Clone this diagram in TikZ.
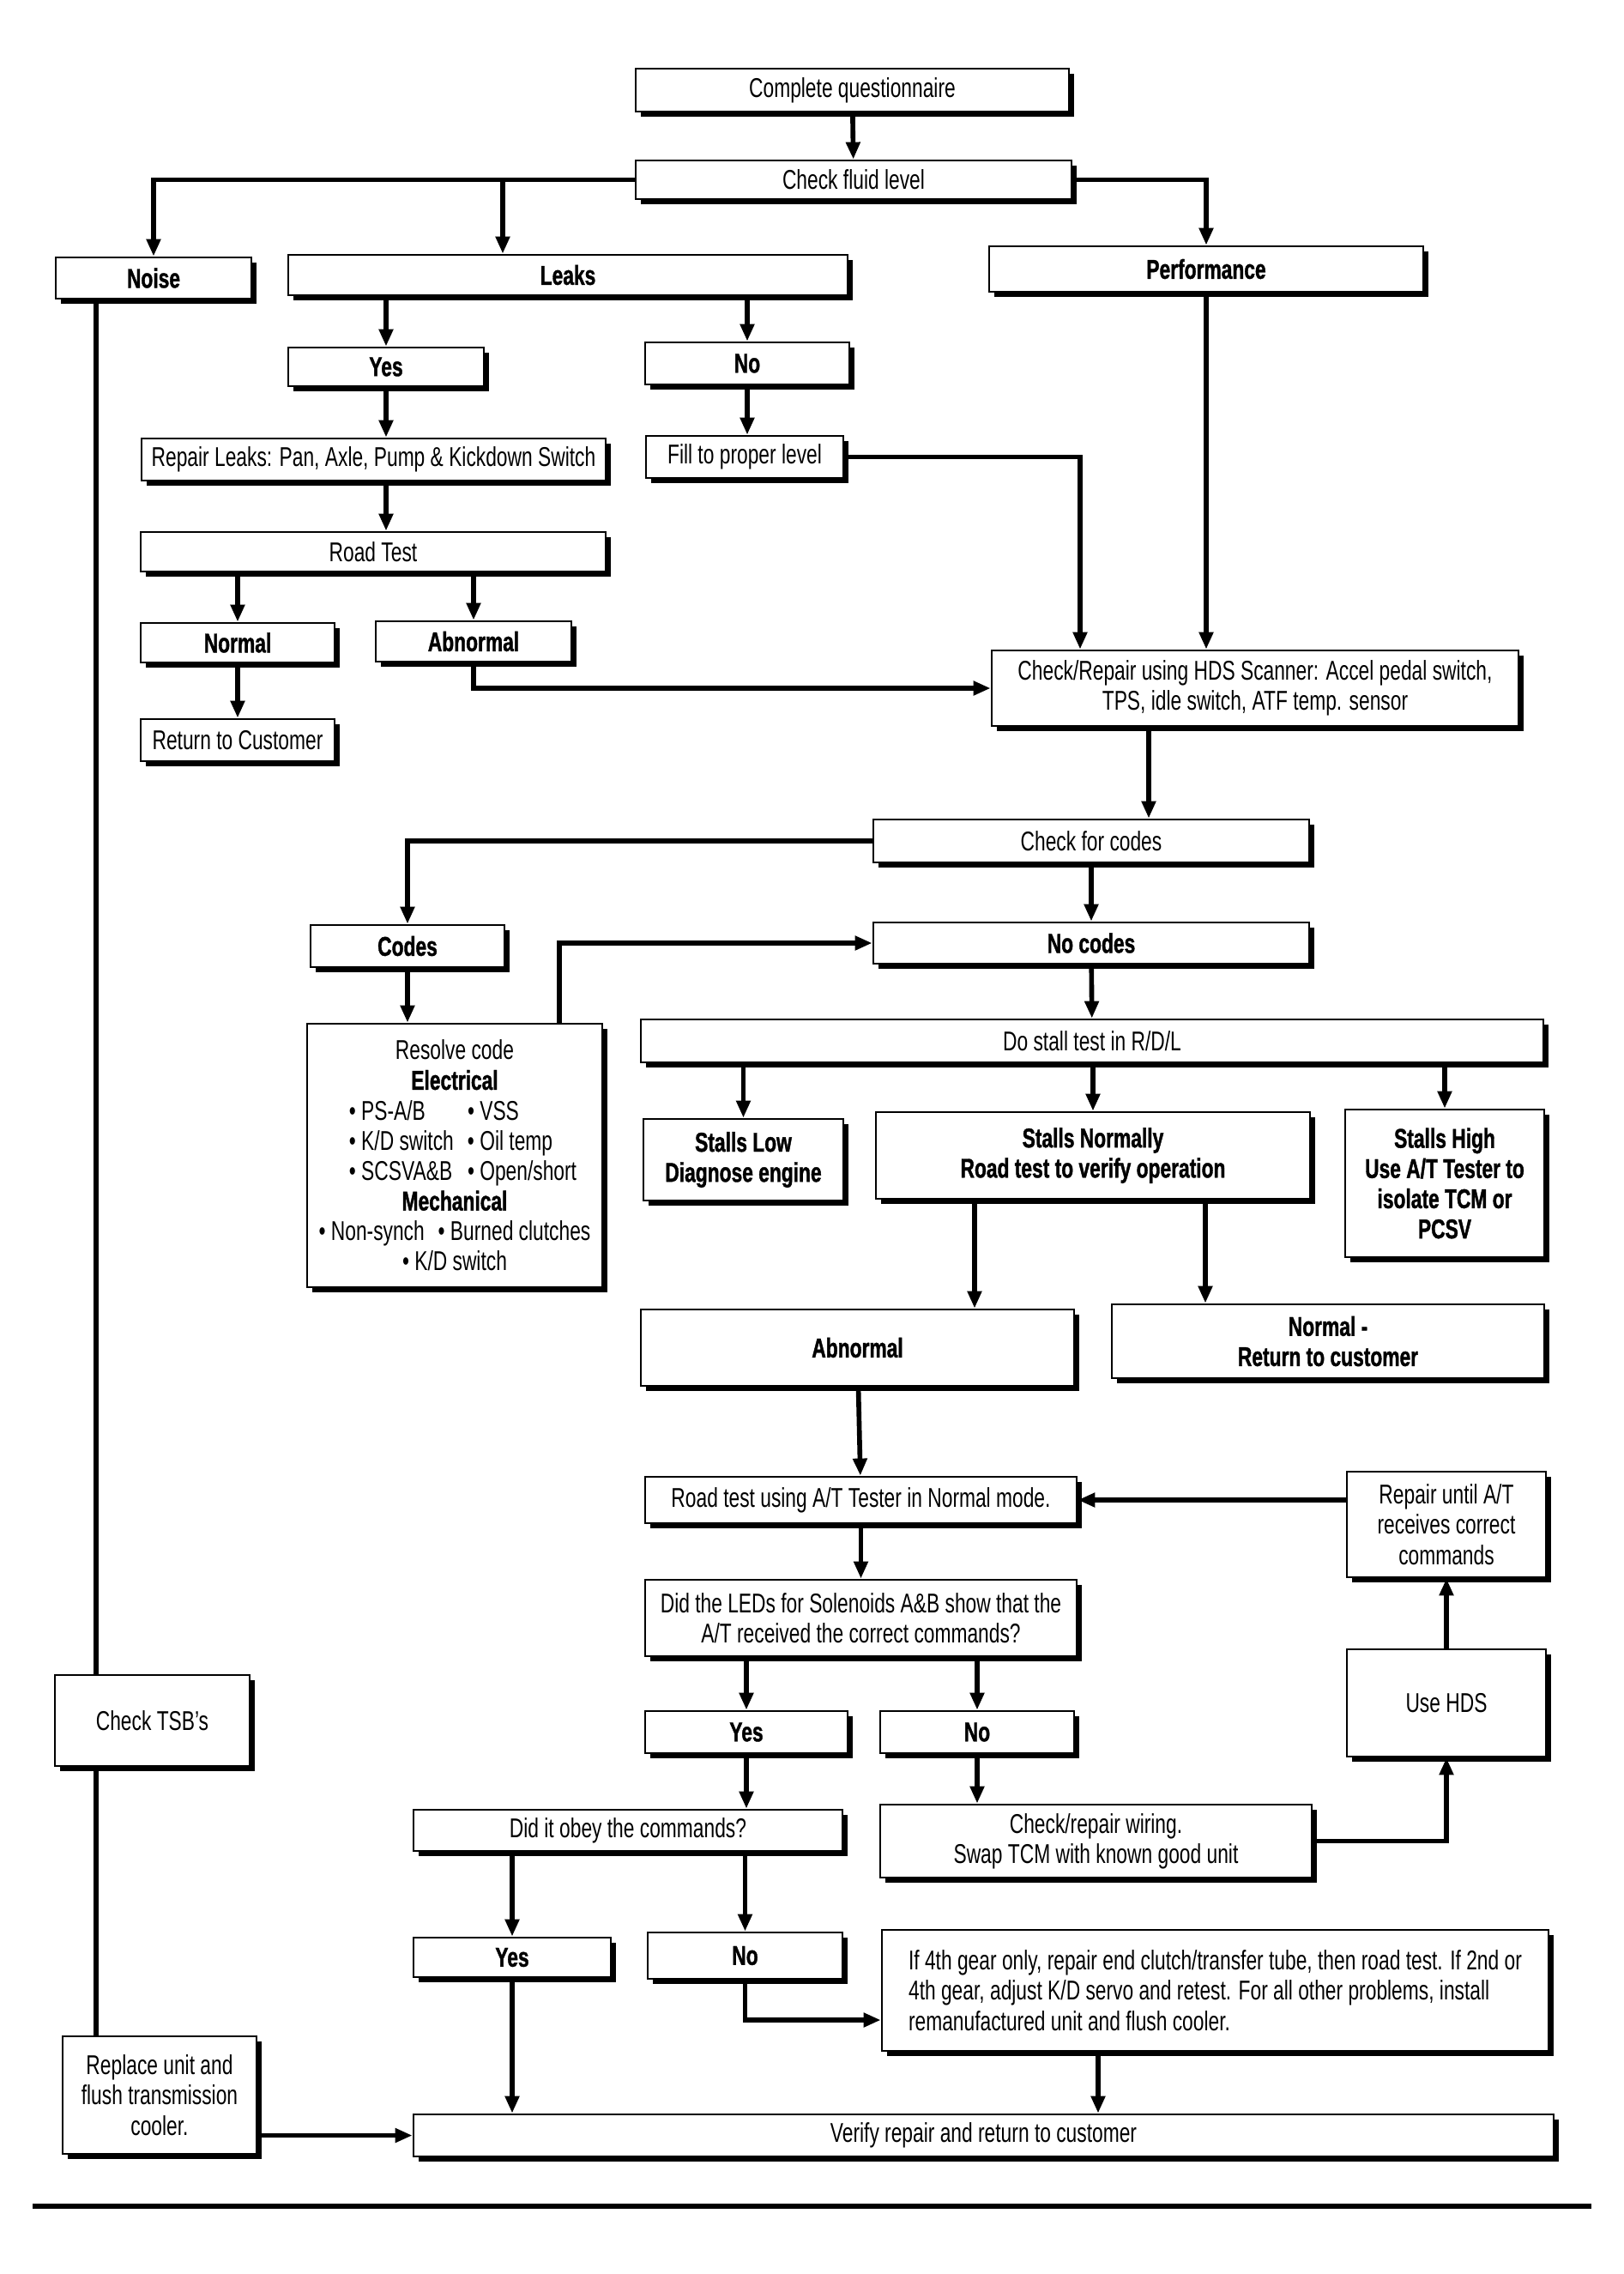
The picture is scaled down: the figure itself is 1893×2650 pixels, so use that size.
\documentclass[tikz,border=0pt]{standalone}
\usepackage{fontspec}
\setmainfont{Liberation Sans}[FakeStretch=0.72, BoldFeatures={FakeBold=1.2}]
\usetikzlibrary{shadows,arrows.meta,calc}
\tikzset{
  pbox/.style={draw=black, line width=0.8pt, fill=white, inner sep=0pt, align=center,
    drop shadow={shadow xshift=1.6pt, shadow yshift=-1.6pt, opacity=1, fill=black}},
  pbold/.style={pbox, font=\fontsize{9}{10}\selectfont\bfseries},
  corners/.style n args={4}{minimum width={(#3-#1)*0.01cm}, minimum height={(#4-#2)*0.01cm},
    at={({(#1+#3)/2},{(#2+#4)/2})}},
  arr/.style={line width=1.6pt, -{Triangle[length=0.2cm,width=0.16cm]}},
  ln/.style={line width=1.6pt}
}
\begin{document}
\begin{tikzpicture}[x=0.01cm, y=-0.01cm, font=\fontsize{9}{10}\selectfont]
\useasboundingbox (0,0) rectangle (1893,2650);
\fill[white] (0,0) rectangle (1893,2650);

% ---------- boxes ----------
\node[pbox, corners={741}{80}{1246}{130}] (cq) {Complete questionnaire};
\node[pbox, corners={741}{187}{1249}{232}] (cf) {Check fluid level};
\node[pbold, corners={65}{300}{293}{348}] (noise) {Noise};
\node[pbold, corners={336}{297}{988}{344}] (leaks) {Leaks};
\node[pbold, corners={1153}{287}{1659}{340}] (perf) {Performance};
\node[pbold, corners={336}{405}{564}{450}] (yes1) {Yes};
\node[pbold, corners={752}{399}{990}{448}] (no1) {No};
\node[pbox, corners={165}{511}{706}{560}] (repair) {Repair Leaks: Pan, Axle, Pump \& Kickdown Switch};
\node[pbox, corners={753}{508}{983}{557}] (fill) {Fill to proper level};
\node[pbox, corners={164}{620}{706}{666}] (road) {Road Test};
\node[pbold, corners={164}{726}{390}{772}] (normal) {Normal};
\node[pbold, corners={438}{724}{666}{771}] (abn) {Abnormal};
\node[pbox, corners={164}{838}{390}{887}] (ret) {Return to Customer};
\node[pbox, corners={1156}{758}{1770}{846}] (chk) {Check/Repair using HDS Scanner: Accel pedal switch,\\TPS, idle switch, ATF temp. sensor};
\node[pbox, corners={1018}{955}{1526}{1005}] (cfc) {Check for codes};
\node[pbold, corners={362}{1078}{588}{1127}] (codes) {Codes};
\node[pbold, corners={1018}{1075}{1526}{1123}] (nocodes) {No codes};
\node[pbox, corners={358}{1193}{702}{1500}] (res) {Resolve code\\
  \textbf{Electrical}\\
  \makebox[1.38cm][l]{• PS-A/B}\makebox[1.08cm][l]{• VSS}\\
  \makebox[1.38cm][l]{• K/D switch}\makebox[1.08cm][l]{• Oil temp}\\
  \makebox[1.38cm][l]{• SCSVA\&B}\makebox[1.08cm][l]{• Open/short}\\
  \textbf{Mechanical}\\
  • Non-synch\enspace • Burned clutches\\
  • K/D switch};
\node[pbox, corners={747}{1188}{1799}{1238}] (stall) {Do stall test in R/D/L};
\node[pbold, corners={750}{1304}{983}{1399}] (low) {Stalls Low\\Diagnose engine};
\node[pbold, corners={1021}{1296}{1527}{1397}] (normally) {Stalls Normally\\Road test to verify operation};
\node[pbold, corners={1568}{1293}{1800}{1465}] (high) {Stalls High\\Use A/T Tester to\\isolate TCM or\\PCSV};
\node[pbold, corners={747}{1526}{1252}{1615}] (abn2) {Abnormal};
\node[pbold, corners={1296}{1520}{1800}{1606}] (normret) {Normal -\\Return to customer};
\node[pbox, corners={752}{1721}{1255}{1775}] (roadat) {Road test using A/T Tester in Normal mode.};
\node[pbox, corners={1570}{1715}{1802}{1838}] (repuntil) {Repair until A/T\\receives correct\\commands};
\node[pbox, corners={752}{1841}{1255}{1930}] (leds) {Did the LEDs for Solenoids A\&B show that the\\A/T received the correct commands?};
\node[pbold, corners={752}{1994}{988}{2043}] (yes2) {Yes};
\node[pbold, corners={1026}{1994}{1252}{2043}] (no2) {No};
\node[pbox, corners={1570}{1922}{1802}{2047}] (usehds) {Use HDS};
\node[pbox, corners={482}{2109}{982}{2157}] (obey) {Did it obey the commands?};
\node[pbox, corners={1026}{2103}{1529}{2188}] (wiring) {Check/repair wiring.\\Swap TCM with known good unit};
\node[pbox, corners={64}{1952}{291}{2058}] (tsb) {Check TSB's};
\node[pbold, corners={482}{2258}{712}{2304}] (yes3) {Yes};
\node[pbold, corners={755}{2252}{982}{2306}] (no3) {No};
\node[pbox, corners={1028}{2249}{1805}{2390}, align=left] (if4) {If 4th gear only, repair end clutch/transfer tube, then road test. If 2nd or\\4th gear, adjust K/D servo and retest. For all other problems, install\\remanufactured unit and flush cooler.};
\node[pbox, corners={73}{2373}{299}{2510}] (replace) {Replace unit and\\flush transmission\\cooler.};
\node[pbox, corners={482}{2464}{1811}{2513}] (verify) {Verify repair and return to customer};

% ---------- helper coordinates ----------
\coordinate (xleaks) at (586,0);
\coordinate (xfill) at (1259,0);
\coordinate (xchk) at (1339,0);
\coordinate (xres) at (652,0);
\coordinate (xab) at (1136,0);
\coordinate (xnr) at (1405,0);
\coordinate (xnoise) at (112,0);
\coordinate (xif) at (1280,0);
\coordinate (yno3) at (0,2354);

% ---------- connectors ----------
\draw[arr] (cq) -- (cf);
\draw[arr] (cf.west) -| (noise);
\draw[arr] (cf.west -| xleaks) -- (xleaks |- leaks.north);
\draw[arr] (cf.east) -| (perf);
\draw[arr] (leaks.south -| yes1) -- (yes1);
\draw[arr] (leaks.south -| no1) -- (no1);
\draw[arr] (yes1) -- (yes1 |- repair.north);
\draw[arr] (no1) -- (no1 |- fill.north);
\draw[arr] (yes1 |- repair.south) -- (yes1 |- road.north);
\draw[arr] (fill.east) -| (xfill |- chk.north);
\draw[arr] (perf) -- (perf |- chk.north);
\draw[arr] (road.south -| normal) -- (normal);
\draw[arr] (road.south -| abn) -- (abn);
\draw[arr] (normal) -- (ret);
\draw[arr] (abn.south) |- (chk.west);
\draw[arr] (xchk |- chk.south) -- (xchk |- cfc.north);
\draw[arr] (cfc.west) -| (codes);
\draw[arr] (cfc) -- (nocodes);
\draw[arr] (codes) -- (codes |- res.north);
\draw[arr] (xres |- res.north) |- (nocodes.west);
\draw[arr] (nocodes) -- (stall);
\draw[arr] (stall.south -| low) -- (low);
\draw[arr] (stall.south -| normally) -- (normally);
\draw[arr] (stall.south -| high) -- (high);
\draw[arr] (xab |- normally.south) -- (xab |- abn2.north);
\draw[arr] (xnr |- normally.south) -- (xnr |- normret.north);
\draw[arr] (abn2) -- (roadat);
\draw[arr] (repuntil.west |- roadat) -- (roadat.east);
\draw[arr] (roadat) -- (leds);
\draw[arr] (leds.south -| yes2) -- (yes2);
\draw[arr] (leds.south -| no2) -- (no2);
\draw[arr] (yes2) -- (yes2 |- obey.north);
\draw[arr] (no2) -- (no2 |- wiring.north);
\draw[arr] (wiring.east) -| (usehds);
\draw[arr] (usehds) -- (repuntil);
\draw[arr] (obey.south -| yes3) -- (yes3);
\draw[arr] (obey.south -| no3) -- (no3);
\draw[arr] (yes3) -- (yes3 |- verify.north);
\draw[arr] (no3.south) |- (yno3 -| if4.west);
\draw[arr] (xif |- if4.south) -- (xif |- verify.north);
\draw[arr] (replace.east |- verify) -- (verify.west);
\draw[ln] (xnoise |- noise.south) -- (xnoise |- tsb.north);
\draw[ln] (xnoise |- tsb.south) -- (xnoise |- replace.north);

% ---------- bottom rule ----------
\draw[line width=1.7pt] (38,2571) -- (1855,2571);
\end{tikzpicture}
\end{document}
